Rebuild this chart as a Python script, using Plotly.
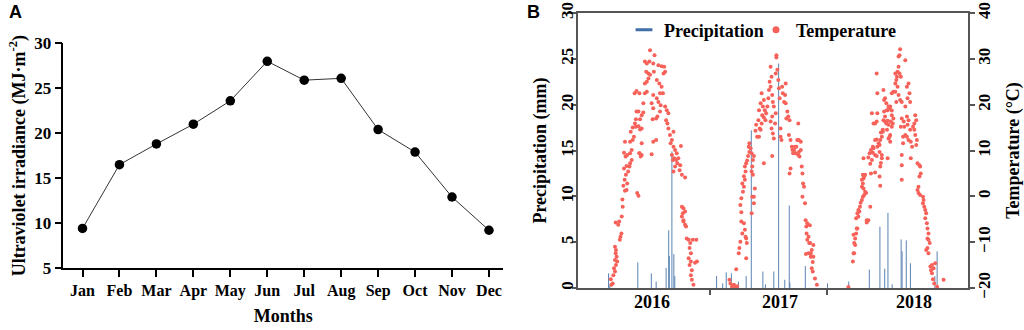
import plotly.graph_objects as go

# ---------------- Panel A data ----------------
months = ["Jan", "Feb", "Mar", "Apr", "May", "Jun", "Jul", "Aug", "Sep", "Oct", "Nov", "Dec"]
uv_irradiance = [9.4, 16.5, 18.8, 21.0, 23.6, 28.0, 25.9, 26.1, 20.4, 17.9, 12.9, 9.2]

# ---------------- Panel B data ----------------
# x = day count along the record (axis ticks mark the year boundaries)
year_labels = ["2016", "2017", "2018"]
year_label_days = [231, 629, 1045]
year_boundary_days = [411, 776]

days16 = [105,109,103,111,116,113,119,123,116,121,
          118,119,116,131,133,136,126,118,129,137,
          140,139,147,152,142,146,154,150,157,144,
          152,161,163,168,149,154,144,163,168,147,
          163,171,175,181,165,171,178,189,194,181,
          183,199,204,194,199,189,177,183,185,189,
          192,196,199,192,204,209,215,209,215,220,
          213,215,209,223,225,239,235,251,261,269,
          220,225,237,246,254,261,267,272,256,235,
          246,251,258,265,230,235,233,244,248,256,
          272,277,282,275,279,282,287,293,298,289,
          298,303,308,293,296,300,306,313,321,310,
          303,298,319,317,324,334,230,235,244,199,
          192,324,329,334,327,324,329,334,329,337,
          339,345,350,358,369,348,352,345,352,348,
          355,365,371,352,355,360]
temps16 = [-19.3,-19.0,-18.1,-17.2,-16.4,-15.7,-15.0,-14.2,-13.9,-13.2,
           -12.4,-11.7,-11.0,-9.5,-8.8,-8.1,-6.2,-5.7,-5.5,-4.4,
           -2.3,-0.7,1.2,1.4,2.3,3.6,2.8,4.7,5.4,6.1,
           6.6,6.5,7.2,7.9,8.7,9.0,9.5,9.4,10.1,11.9,
           11.9,12.3,13.0,15.2,14.1,15.0,15.9,15.3,16.8,16.8,
           18.5,17.7,18.3,14.6,14.8,18.5,22.5,23.0,0.7,0.1,
           9.4,8.7,11.6,22.5,20.3,22.5,22.8,24.6,25.0,25.7,
           27.2,29.0,29.4,29.4,31.9,30.8,29.0,28.6,28.4,28.3,
           26.8,26.5,27.2,25.4,24.6,23.9,26.8,27.2,22.5,22.1,
           21.4,20.6,19.9,22.5,20.3,19.2,16.8,17.0,17.4,18.5,
           19.6,18.8,18.1,16.6,15.9,14.8,13.4,12.3,14.1,11.6,
           10.8,10.1,9.4,9.0,7.9,8.3,7.9,8.3,11.0,7.2,
           6.5,5.4,6.8,5.7,4.7,4.1,9.2,11.9,12.3,9.0,
           9.4,-2.3,-2.6,-3.3,-3.7,-4.4,-5.2,-6.2,-5.5,-6.6,
           -9.2,-9.5,-10.2,-9.5,-9.5,-11.3,-12.4,-13.5,-14.2,-15.0,
           -16.1,-14.5,-14.2,-17.2,-18.2,-19.3]

days17 = [472,475,480,486,491,496,493,501,503,506,
          512,517,509,520,522,524,526,524,509,506,
          509,514,517,512,520,517,522,520,524,527,
          530,534,532,538,534,541,543,545,548,541,
          545,543,541,548,551,548,553,558,555,562,
          564,566,564,569,572,574,576,569,572,579,
          582,579,584,586,590,593,595,597,600,603,
          600,605,607,610,605,600,603,607,610,614,
          616,616,618,618,621,624,626,628,631,631,
          634,636,638,642,647,645,647,649,652,655,
          659,657,662,666,668,670,673,676,678,680,
          683,686,688,690,694,686,688,694,697,662,
          659,579,605,699,701,704,699,707,
          709,711,714,714,720,718,725,725,722,712,
          718,723,733,728,710,733,731,728,731,738,
          744]
temps17 = [-18.2,-19.0,-19.7,-19.3,-19.7,-19.6,-15.9,-12.4,-11.3,-9.9,
           -8.1,-5.9,-5.5,-7.3,-8.8,-9.2,-10.2,-13.5,-3.5,-1.9,
           -0.4,1.0,2.1,2.8,3.6,4.4,5.4,6.5,7.2,7.8,
           8.8,9.7,10.8,10.5,11.6,9.4,6.5,7.9,8.8,5.4,
           4.7,-0.1,-3.7,-0.1,1.7,-1.5,14.3,13.0,15.6,16.6,
           18.8,14.8,13.0,14.5,15.9,17.7,19.6,20.3,22.5,21.0,
           18.8,17.2,16.6,18.1,19.6,21.4,23.2,25.0,28.3,26.1,
           23.9,22.1,20.6,19.6,17.4,16.3,14.8,13.7,12.6,15.9,
           18.1,26.8,30.8,30.3,27.6,25.4,23.6,21.4,14.8,13.0,
           12.3,23.9,22.5,20.6,24.6,22.1,20.3,17.0,18.5,17.4,
           16.6,13.4,12.3,10.8,10.1,9.4,10.1,10.8,9.4,10.8,
           12.3,9.0,9.7,8.7,10.1,15.9,12.3,11.9,6.5,6.1,
           5.0,7.2,8.8,5.0,2.8,2.1,-0.1,-1.5,
           -5.2,-6.6,-5.9,-9.5,-10.2,-12.4,-13.2,-12.4,-6.3,-8.1,
           -8.8,-10.2,-10.6,-11.7,-12.6,-13.2,-14.3,-15.7,-16.4,-17.9,
           -19.3]

days18 = [842,856,858,860,863,860,863,858,866,868,
          870,866,873,870,876,873,878,880,884,887,
          891,897,894,889,884,887,884,889,891,887,
          894,899,904,899,910,912,925,939,941,889,
          904,910,915,908,912,920,918,925,930,939,
          946,946,943,941,918,925,930,936,932,939,
          941,946,943,949,920,925,930,915,932,932,
          930,951,953,956,960,962,953,956,964,967,
          970,972,977,951,956,960,964,967,974,977,
          980,982,962,949,972,967,972,970,964,977,
          977,982,988,988,991,993,988,995,998,1001,
          998,1001,1003,1005,995,998,1003,991,1008,1005,
          1008,1008,1008,1008,1019,1024,1029,1032,1026,1034,
          1019,1014,1016,1019,1012,1012,1024,1029,1026,1034,
          1024,1036,1040,1029,1036,1043,1047,1050,1053,1047,
          1050,1055,1053,1057,1063,1065,1067,1063,1060,1057,
          1060,1065,1074,1076,1074,1078,1081,1084,1081,1086,
          1088,1091,1088,1091,1095,1088,1084,1091,1097,1102,
          1099,1107,1102,1112,1105,1109,1118,1138]
temps18 = [-19.8,-14.2,-12.4,-12.4,-10.6,-10.2,-9.2,-8.4,-8.1,-7.0,
           -7.0,-4.8,-4.4,-3.7,-3.3,-3.0,-2.3,-1.4,-0.8,-0.1,
           0.3,0.7,1.0,1.7,2.1,2.8,3.6,3.9,4.4,4.7,
           4.7,-5.2,-5.2,-5.7,-2.3,5.0,5.2,4.3,2.3,8.3,
           8.5,7.1,7.9,9.4,10.1,10.5,9.5,9.0,8.8,9.7,
           9.0,8.3,7.3,6.5,10.8,12.3,12.4,11.6,10.8,11.2,
           12.3,13.0,13.9,14.1,15.9,15.9,16.3,18.1,18.1,22.5,
           26.8,23.2,21.0,21.4,20.3,18.8,18.5,17.4,18.8,19.6,
           19.2,19.6,18.7,16.6,16.3,15.9,16.5,15.6,16.3,15.2,
           15.9,17.0,14.5,14.5,13.4,12.6,11.9,13.0,8.3,17.7,
           22.5,22.8,22.8,24.6,25.4,26.1,26.8,27.2,28.3,26.8,
           30.5,30.8,32.1,26.1,23.9,22.1,21.0,20.6,20.6,15.2,
           17.0,9.0,6.8,3.6,29.7,23.9,24.6,22.5,21.4,20.6,
           19.6,16.3,15.2,13.4,13.0,11.6,17.4,16.6,15.6,14.5,
           13.0,11.9,10.8,12.3,8.3,15.2,15.9,17.7,16.6,14.5,
           13.4,12.3,11.2,7.2,6.8,6.5,5.0,4.3,2.1,1.4,
           0.7,0.3,-0.1,-0.8,-1.5,-2.3,-3.0,-3.7,-4.8,-5.9,
           -7.0,-8.1,-9.2,-9.5,-10.2,-11.3,-11.7,-12.4,-15.3,-15.0,
           -16.1,-15.7,-16.8,-14.6,-18.1,-19.0,-19.7,-18.2]

precip_day = [96,100,187,229,244,275,283,285,293,299,
              302,432,451,462,478,500,524,540,576,584,
              610,625,644,658,660,708,777,843,907,940,
              955,965,978,1006,1009,1022,1035,1111,1118]
precip_mm = [1.6,0.4,2.8,1.6,0.7,2.2,6.3,3.5,14.9,3.7,
             1.3,1.3,0.5,1.7,1.6,0.7,1.3,17.2,1.8,0.4,
             1.8,24.5,0.9,9.0,0.6,2.4,0.5,0.7,2.0,6.7,
             2.1,8.2,0.4,5.3,4.0,5.2,2.7,1.3,4.0]

# ---------------- styles ----------------
SERIF = "Liberation Serif"
BLUE = "#3f6fa6"
RED = "#f6625a"
FRAME = "#555555"

fig = go.Figure()

# Panel A
fig.add_trace(go.Scatter(
    x=months, y=uv_irradiance, mode="lines+markers",
    line=dict(color="#333333", width=1),
    marker=dict(color="black", size=9.5),
    xaxis="x", yaxis="y", showlegend=False))

# Panel B: precipitation as thin vertical sticks
stick_x, stick_y = [], []
for d, v in zip(precip_day, precip_mm):
    stick_x += [d, d, None]
    stick_y += [0, v, None]
fig.add_trace(go.Scatter(
    x=stick_x, y=stick_y, mode="lines",
    line=dict(color=BLUE, width=1), opacity=0.85,
    xaxis="x2", yaxis="y2", showlegend=False, hoverinfo="skip"))

for dd, tt in [(days16, temps16), (days17, temps17), (days18, temps18)]:
    fig.add_trace(go.Scatter(
        x=dd, y=tt, mode="markers",
        marker=dict(color=RED, size=4, line=dict(width=0)),
        xaxis="x2", yaxis="y3", showlegend=False))

# legend entries
fig.add_trace(go.Scatter(
    x=[None], y=[None], mode="markers", name="Precipitation", legend="legend",
    marker=dict(symbol="line-ew", size=12, line=dict(color=BLUE, width=3)),
    xaxis="x2", yaxis="y2"))
fig.add_trace(go.Scatter(
    x=[None], y=[None], mode="markers", name="Temperature", legend="legend2",
    marker=dict(symbol="circle", size=7, color=RED),
    xaxis="x2", yaxis="y3"))

W, H = 1024, 330
axA_x = [63.3 / W, 503 / W]
axA_y = [(H - 268) / H, (H - 43.3) / H]
axB_x = [577.7 / W, 968 / W]
axB_y = [(H - 288) / H, (H - 13) / H]

tickfont = dict(family=SERIF, size=17, color="black", weight="bold")
titlefont = dict(family=SERIF, size=18, color="black", weight="bold")
legfont = dict(family=SERIF, size=18, color="black", weight="bold")

fig.update_layout(
    width=W, height=H,
    margin=dict(l=0, r=0, t=0, b=0, autoexpand=False),
    paper_bgcolor="white", plot_bgcolor="white",
    xaxis=dict(domain=axA_x, anchor="y", type="category", automargin=False,
               categoryorder="array", categoryarray=months,
               range=[-0.52, 11.38], showline=True, linecolor="black",
               linewidth=1.5, ticks="outside", ticklen=7, tickwidth=1.5,
               tickcolor="black", showgrid=False, zeroline=False,
               tickfont=dict(family=SERIF, size=16, color="black", weight="bold"),
               title=dict(text="Months", font=titlefont, standoff=10)),
    yaxis=dict(domain=axA_y, anchor="x", range=[5, 30], automargin=False,
               tickvals=[5, 10, 15, 20, 25, 30], showline=True,
               linecolor="black", linewidth=1.5, ticks="outside", ticklen=7,
               tickwidth=1.5, tickcolor="black", showgrid=False, zeroline=False,
               tickfont=tickfont,
               title=dict(text="Ultraviolet irradiance (MJ·m<sup>-2</sup>)",
                          font=titlefont, standoff=4)),
    xaxis2=dict(domain=axB_x, anchor="y2", range=[0, 1214], automargin=False,
                tickvals=year_boundary_days, showticklabels=False,
                showline=True, mirror=True, linecolor=FRAME, linewidth=2,
                ticks="outside", ticklen=5, tickwidth=1.5, tickcolor=FRAME,
                showgrid=False, zeroline=False),
    yaxis2=dict(domain=axB_y, anchor="x2", range=[0, 30], automargin=False,
                tickvals=[0, 5, 10, 15, 20, 25, 30], tickangle=-90,
                ticklabelstandoff=-8,
                showline=True, mirror=True, linecolor=FRAME, linewidth=2,
                ticks="outside", ticklen=4, tickwidth=1.5, tickcolor=FRAME,
                showgrid=False, zeroline=False, tickfont=tickfont,
                title=dict(text="Precipitation (mm)", font=titlefont, standoff=7)),
    yaxis3=dict(overlaying="y2", anchor="x2", side="right", range=[-20, 40],
                automargin=False,
                tickvals=[-20, -10, 0, 10, 20, 30, 40], tickangle=-90,
                ticklabelstandoff=-5,
                showline=True, linecolor=FRAME, linewidth=2,
                ticks="outside", ticklen=5, tickwidth=1.5, tickcolor=FRAME,
                showgrid=False, zeroline=False, tickfont=tickfont,
                title=dict(text="Temperature (°C)", font=titlefont, standoff=16)),
    legend=dict(orientation="h", x=624 / W, y=(H - 30) / H, yanchor="middle",
                xanchor="left", bgcolor="rgba(0,0,0,0)", itemwidth=30,
                font=legfont),
    legend2=dict(orientation="h", x=756 / W, y=(H - 30) / H, yanchor="middle",
                 xanchor="left", bgcolor="rgba(0,0,0,0)", itemwidth=30,
                 font=legfont),
)

annotations = [
    dict(text="A", x=15 / W, y=(H - 12) / H, xref="paper", yref="paper",
         showarrow=False, xanchor="center", yanchor="middle",
         font=dict(family="Liberation Sans", size=18, color="black", weight="bold")),
    dict(text="B", x=533 / W, y=(H - 12) / H, xref="paper", yref="paper",
         showarrow=False, xanchor="center", yanchor="middle",
         font=dict(family="Liberation Sans", size=18, color="black", weight="bold")),
]
for lbl, d in zip(year_labels, year_label_days):
    annotations.append(dict(text=lbl, x=d, xref="x2", y=(H - 302) / H, yref="paper",
                            showarrow=False, xanchor="center", yanchor="middle",
                            font=dict(family=SERIF, size=18, color="black", weight="bold")))
fig.update_layout(annotations=annotations)

# the page's default 8px body margin would shift the figure; remove it
fig.write_html("out.html", config={"displayModeBar": False},
               post_script="document.body.style.margin='0px';")
